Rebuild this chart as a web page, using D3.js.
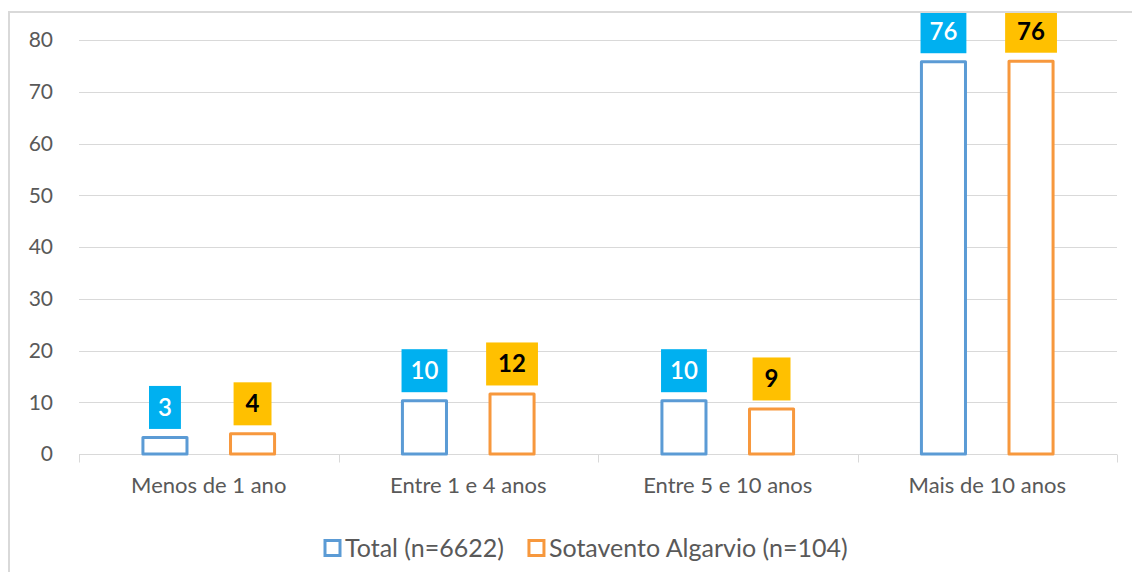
<!DOCTYPE html>
<html lang="pt">
<head>
<meta charset="UTF-8">
<title>Tempo de residência</title>
<script src="https://d3js.org/d3.v7.min.js"></script>
<style>
  body { margin: 0; background: #fff; }
  text { font-family: Lato, "Open Sans", sans-serif; }
</style>
</head>
<body>
<div id="chart"></div>
<script>
// data
const categories = ["Menos de 1 ano", "Entre 1 e 4 anos", "Entre 5 e 10 anos", "Mais de 10 anos"];
const seriesNames = ["Total (n=6622)", "Sotavento Algarvio (n=104)"];
const totalValues = [3.2, 10.3, 10.3, 75.8];
const sotaventoValues = [3.9, 11.6, 8.7, 75.9];
const yTicks = [0, 10, 20, 30, 40, 50, 60, 70, 80];

const W = 1132, H = 572;
const strokeCols = ["#5b9bd5", "#f7983d"];
const boxCols = ["#00b0f0", "#ffc000"];

const svg = d3.select("#chart").append("svg")
  .attr("width", W).attr("height", H);

// outer frame
svg.append("rect")
  .attr("x", 9).attr("y", 12).attr("width", W + 20).attr("height", H + 20)
  .attr("fill", "#fff").attr("stroke", "#d9d9d9").attr("stroke-width", 2);

svg.append("clipPath").attr("id", "frame")
  .append("rect").attr("x", 10).attr("y", 13).attr("width", W).attr("height", H);

const x0 = d3.scaleBand().domain(categories).range([79, 1117]);
const x1 = d3.scaleBand().domain([0, 1]).range([0, x0.bandwidth()])
  .paddingInner(0.497).paddingOuter(0.73);
const y = d3.scaleLinear().domain([0, 80]).range([454, 40]);

// grid lines
svg.append("g").selectAll("line").data(yTicks.filter(d => d > 0)).join("line")
  .attr("x1", 79).attr("x2", 1117)
  .attr("y1", d => Math.round(y(d)) + 0.5).attr("y2", d => Math.round(y(d)) + 0.5)
  .attr("stroke", "#d9d9d9").attr("stroke-width", 1);

// y tick labels
svg.append("g").selectAll("text").data(yTicks).join("text")
  .attr("x", 53).attr("y", d => y(d))
  .attr("dy", "0.35em").attr("text-anchor", "end")
  .attr("font-size", 21).attr("fill", "#595959")
  .text(d => d);

// x axis
const xAxis = svg.append("g").attr("transform", `translate(0,${Math.round(y(0)) + 0.5})`);
xAxis.append("line").attr("x1", 79).attr("x2", 1117)
  .attr("stroke", "#d9d9d9");
const bounds = categories.map(c => x0(c)).concat([1117]);
xAxis.selectAll("line.tick").data(bounds).join("line")
  .attr("class", "tick")
  .attr("x1", d => Math.round(d) + 0.5).attr("x2", d => Math.round(d) + 0.5)
  .attr("y1", 0).attr("y2", 8).attr("stroke", "#d9d9d9");
xAxis.selectAll("text").data(categories).join("text")
  .attr("x", d => x0(d) + x0.bandwidth() / 2).attr("y", 31)
  .attr("dy", "0.35em").attr("text-anchor", "middle")
  .attr("font-size", 22).attr("fill", "#595959")
  .text(d => d);

// bars
const rows = categories.map((c, i) => [
  { cat: c, s: 0, v: totalValues[i] },
  { cat: c, s: 1, v: sotaventoValues[i] }
]).flat();

const plot = svg.append("g").attr("clip-path", "url(#frame)");

plot.selectAll("rect.bar").data(rows).join("rect")
  .attr("class", "bar")
  .attr("x", d => x0(d.cat) + x1(d.s))
  .attr("y", d => y(d.v))
  .attr("width", x1.bandwidth())
  .attr("height", d => y(0) - y(d.v))
  .attr("fill", "#fff")
  .attr("stroke", d => strokeCols[d.s])
  .attr("stroke-width", 3)
  .attr("stroke-linejoin", "round");

// data labels in coloured boxes
const lab = plot.selectAll("g.lab").data(rows).join("g").attr("class", "lab");
lab.append("rect");
lab.append("text")
  .attr("text-anchor", "middle")
  .attr("dy", "0.35em")
  .attr("font-size", 24)
  .attr("font-weight", d => d.s === 1 ? "bold" : "600")
  .attr("fill", d => d.s === 1 ? "#000" : "#fff")
  .text(d => Math.round(d.v));
lab.each(function (d) {
  const g = d3.select(this);
  const cx = x0(d.cat) + x1(d.s) + x1.bandwidth() / 2;
  const bh = 43;
  const bottom = y(d.v) - 1.5 - 7;
  const cy = bottom - bh / 2;
  const tw = g.select("text").node().getComputedTextLength();
  const bw = tw + (d.s === 1 ? 24 : 18);
  g.select("rect")
    .attr("x", cx - bw / 2).attr("y", bottom - bh)
    .attr("width", bw).attr("height", bh)
    .attr("fill", boxCols[d.s]);
  g.select("text").attr("x", cx).attr("y", cy);
});

// legend
const legend = svg.append("g").attr("transform", "translate(0,548)");
let lx = 325;
seriesNames.forEach((name, i) => {
  legend.append("rect")
    .attr("x", lx).attr("y", -7.5).attr("width", 15).attr("height", 15)
    .attr("fill", "#fff").attr("stroke", strokeCols[i]).attr("stroke-width", 3);
  const t = legend.append("text")
    .attr("x", lx + 20).attr("dy", "0.35em")
    .attr("font-size", 25).attr("fill", "#595959")
    .text(name);
  lx += 20 + t.node().getComputedTextLength() + 25;
});
</script>
</body>
</html>
